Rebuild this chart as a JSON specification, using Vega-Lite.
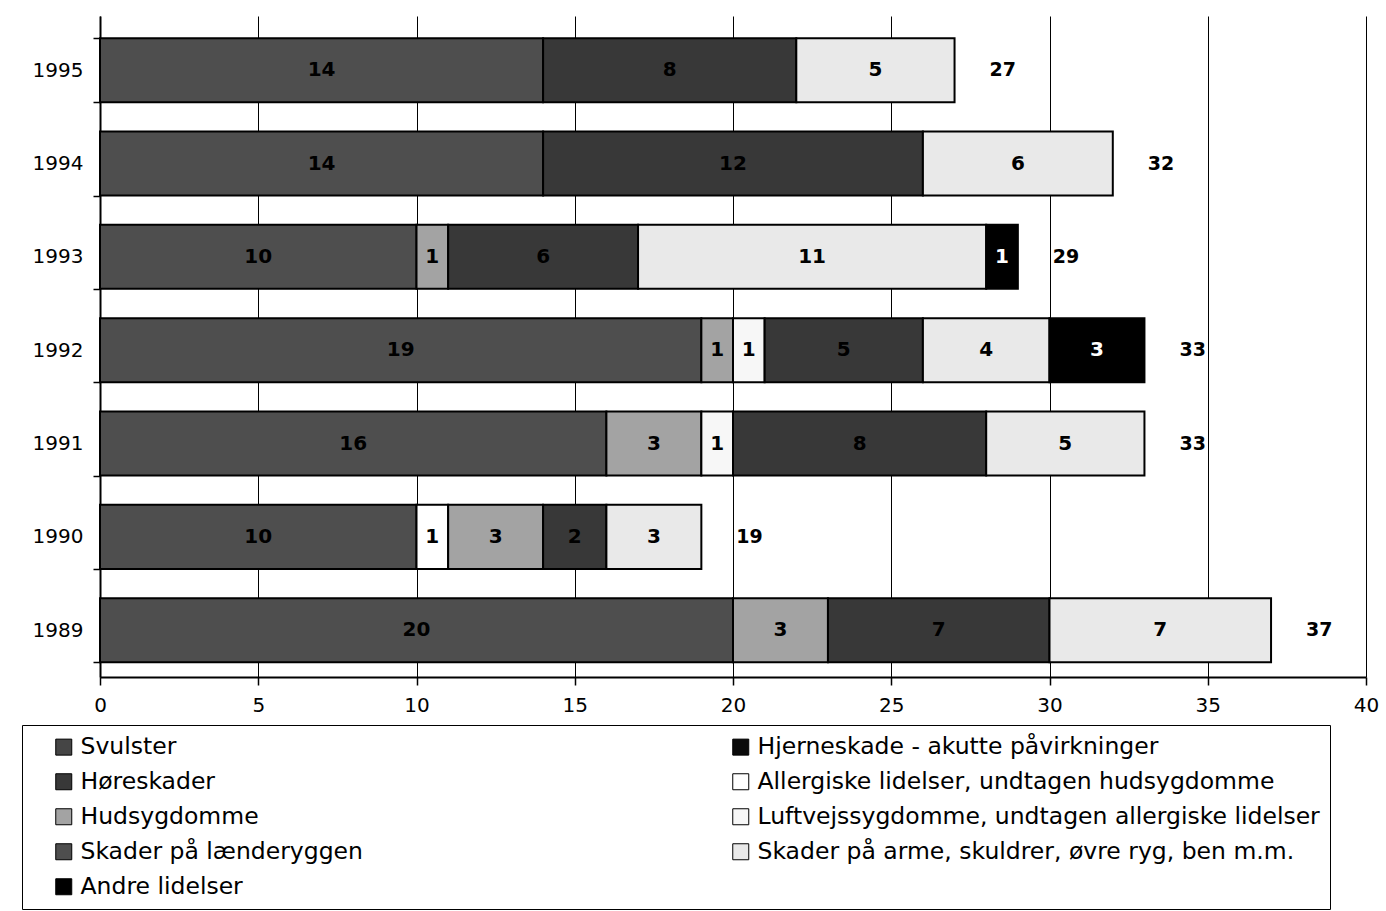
{
  "$schema": "https://vega.github.io/schema/vega-lite/v6.json",
  "width": 1266,
  "height": 661,
  "autosize": {"type": "none"},
  "padding": {"left": 100, "top": 16, "right": 20, "bottom": 234},
  "background": "white",
  "config": {"view": {"stroke": null}, "font": "DejaVu Sans"},
  "data": {
    "values": [
      {"aar": 1989, "kategori": "Skader på lænderyggen", "antal": 20},
      {"aar": 1989, "kategori": "Hudsygdomme", "antal": 3},
      {"aar": 1989, "kategori": "Høreskader", "antal": 7},
      {"aar": 1989, "kategori": "Skader på arme, skuldrer, øvre ryg, ben m.m.", "antal": 7},
      {"aar": 1990, "kategori": "Skader på lænderyggen", "antal": 10},
      {"aar": 1990, "kategori": "Allergiske lidelser, undtagen hudsygdomme", "antal": 1},
      {"aar": 1990, "kategori": "Hudsygdomme", "antal": 3},
      {"aar": 1990, "kategori": "Høreskader", "antal": 2},
      {"aar": 1990, "kategori": "Skader på arme, skuldrer, øvre ryg, ben m.m.", "antal": 3},
      {"aar": 1991, "kategori": "Skader på lænderyggen", "antal": 16},
      {"aar": 1991, "kategori": "Hudsygdomme", "antal": 3},
      {"aar": 1991, "kategori": "Luftvejssygdomme, undtagen allergiske lidelser", "antal": 1},
      {"aar": 1991, "kategori": "Høreskader", "antal": 8},
      {"aar": 1991, "kategori": "Skader på arme, skuldrer, øvre ryg, ben m.m.", "antal": 5},
      {"aar": 1992, "kategori": "Skader på lænderyggen", "antal": 19},
      {"aar": 1992, "kategori": "Hudsygdomme", "antal": 1},
      {"aar": 1992, "kategori": "Luftvejssygdomme, undtagen allergiske lidelser", "antal": 1},
      {"aar": 1992, "kategori": "Høreskader", "antal": 5},
      {"aar": 1992, "kategori": "Skader på arme, skuldrer, øvre ryg, ben m.m.", "antal": 4},
      {"aar": 1992, "kategori": "Andre lidelser", "antal": 3},
      {"aar": 1993, "kategori": "Skader på lænderyggen", "antal": 10},
      {"aar": 1993, "kategori": "Hudsygdomme", "antal": 1},
      {"aar": 1993, "kategori": "Høreskader", "antal": 6},
      {"aar": 1993, "kategori": "Skader på arme, skuldrer, øvre ryg, ben m.m.", "antal": 11},
      {"aar": 1993, "kategori": "Andre lidelser", "antal": 1},
      {"aar": 1994, "kategori": "Skader på lænderyggen", "antal": 14},
      {"aar": 1994, "kategori": "Høreskader", "antal": 12},
      {"aar": 1994, "kategori": "Skader på arme, skuldrer, øvre ryg, ben m.m.", "antal": 6},
      {"aar": 1995, "kategori": "Skader på lænderyggen", "antal": 14},
      {"aar": 1995, "kategori": "Høreskader", "antal": 8},
      {"aar": 1995, "kategori": "Skader på arme, skuldrer, øvre ryg, ben m.m.", "antal": 5}
    ]
  },
  "transform": [
    {"calculate": "indexof(['Skader på lænderyggen','Allergiske lidelser, undtagen hudsygdomme','Hudsygdomme','Luftvejssygdomme, undtagen allergiske lidelser','Høreskader','Skader på arme, skuldrer, øvre ryg, ben m.m.','Andre lidelser'], datum.kategori)", "as": "rk"},
    {"stack": "antal", "groupby": ["aar"], "sort": [{"field": "rk", "order": "ascending"}], "as": ["x0", "x1"]},
    {"calculate": "(datum.x0 + datum.x1) / 2", "as": "xm"}
  ],
  "encoding": {
    "y": {
      "field": "aar",
      "type": "ordinal",
      "sort": "descending",
      "scale": {"paddingInner": 0.314, "paddingOuter": 0.198, "align": 0.6},
      "axis": {
        "title": null,
        "tickBand": "extent",
        "tickSize": 7,
        "tickColor": "black",
        "tickWidth": 1.5,
        "domainColor": "black",
        "domainWidth": 2,
        "labelFontSize": 20,
        "labelColor": "black",
        "labelPadding": 10,
        "grid": false
      }
    }
  },
  "layer": [
    {
      "mark": {"type": "bar", "stroke": "black", "strokeWidth": 2},
      "encoding": {
        "x": {
          "field": "x0",
          "type": "quantitative",
          "scale": {"domain": [0, 40], "nice": false},
          "axis": {
            "title": null,
            "values": [0, 5, 10, 15, 20, 25, 30, 35, 40],
            "grid": true,
            "gridColor": "black",
            "gridOpacity": 1,
            "gridWidth": 1,
            "domainColor": "black",
            "domainWidth": 2,
            "tickColor": "black",
            "tickSize": 8,
            "tickWidth": 1.5,
            "labelFontSize": 20,
            "labelColor": "black",
            "labelPadding": 10,
            "labelFlush": false
          }
        },
        "x2": {"field": "x1"},
        "color": {
          "field": "kategori",
          "type": "nominal",
          "scale": {
            "domain": [
              "Svulster",
              "Høreskader",
              "Hudsygdomme",
              "Skader på lænderyggen",
              "Andre lidelser",
              "Hjerneskade - akutte påvirkninger",
              "Allergiske lidelser, undtagen hudsygdomme",
              "Luftvejssygdomme, undtagen allergiske lidelser",
              "Skader på arme, skuldrer, øvre ryg, ben m.m."
            ],
            "range": ["#454545", "#383838", "#a3a3a3", "#4e4e4e", "#000000", "#0a0a0a", "#ffffff", "#f7f7f7", "#e9e9e9"]
          },
          "legend": {
            "title": null,
            "orient": "none",
            "legendX": -78,
            "legendY": 709,
            "direction": "vertical",
            "columns": 2,
            "columnPadding": 346,
            "rowPadding": 10,
            "symbolType": "square",
            "symbolSize": 256,
            "symbolStrokeColor": "black",
            "symbolStrokeWidth": 1,
            "symbolOffset": 20,
            "labelFontSize": 23.5,
            "labelFont": "DejaVu Sans",
            "labelColor": "black",
            "labelLimit": 800,
            "labelOffset": 5,
            "strokeColor": "black",
            "fillColor": "white",
            "padding": 10
          }
        }
      }
    },
    {
      "mark": {"type": "text", "fontWeight": "bold", "fontSize": 20, "baseline": "middle"},
      "encoding": {
        "x": {"field": "xm", "type": "quantitative"},
        "text": {"field": "antal"},
        "color": {"condition": {"test": "datum.kategori === 'Andre lidelser'", "value": "white"}, "value": "black"}
      }
    },
    {
      "transform": [{"aggregate": [{"op": "sum", "field": "antal", "as": "total"}], "groupby": ["aar"]}],
      "mark": {"type": "text", "align": "left", "dx": 35, "fontSize": 19, "fontWeight": "bold", "baseline": "middle", "color": "black"},
      "encoding": {
        "x": {"field": "total", "type": "quantitative"},
        "text": {"field": "total"}
      }
    }
  ]
}
